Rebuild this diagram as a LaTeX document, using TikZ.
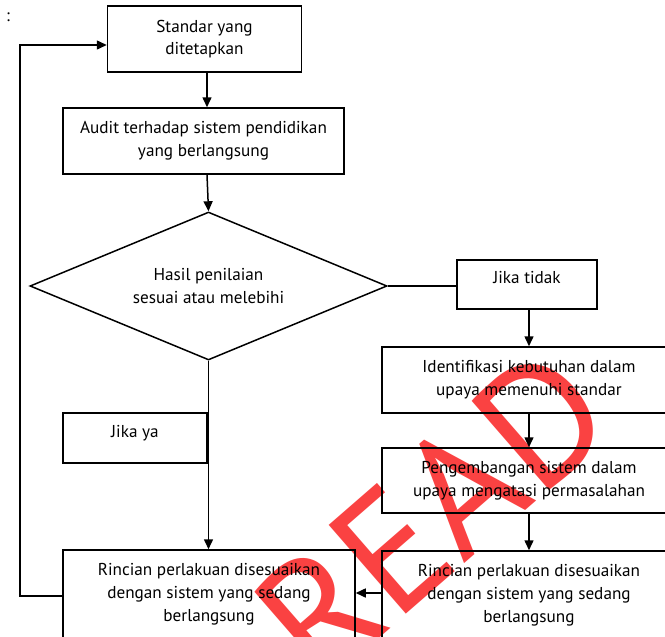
\documentclass[tikz,border=0pt]{standalone}
\usepackage{fontspec}
\setmainfont{PT Sans}
\usetikzlibrary{shapes.geometric,arrows.meta}
\definecolor{wm}{RGB}{250,66,66}
\newcommand{\lifted}[1]{\raisebox{5pt}[0.7em][0.2em]{#1}}
\begin{document}
\begin{tikzpicture}[x=1pt,y=-1pt,
  every node/.style={font=\fontsize{17.2}{22.8}\selectfont},
  box/.style={draw,line width=1.5pt,rectangle,inner sep=0pt,align=center},
  dec/.style={draw,line width=1.5pt,diamond,inner sep=0pt,align=center,
    shape aspect=2.41,minimum width=357pt,minimum height=148pt},
  link/.style={line width=1.5pt},
  arr/.style={line width=1.5pt,-{Triangle[length=10pt,width=9pt]}}]
\useasboundingbox (0,0) rectangle (665,637);
\clip (0,0) rectangle (665,637);
\fill[white] (0,0) rectangle (665,637);

% watermark behind the chart
\node[text=wm,rotate=41,inner sep=0pt,font=\fontsize{168}{168}\selectfont] (mark) at (432,514) {READ};

\node (colon) at (8,17) {:};

% left column
\node[box,minimum width=194pt,minimum height=66pt] (std) at (204.5,39) {Standar yang\\ditetapkan};
\node[box,minimum width=281pt,minimum height=66pt] (audit) at (203.5,141) {Audit terhadap sistem pendidikan\\yang berlangsung};
\node[dec] (hasil) at (208.5,286) {Hasil penilaian\\sesuai atau melebihi};
\node[box,minimum width=144pt,minimum height=50pt] (ya) at (135,438) {\lifted{Jika ya}};
\node[box,minimum width=292pt,minimum height=88pt] (rinL) at (209,594) {Rincian perlakuan disesuaikan\\dengan sistem yang sedang\\berlangsung};

% right column
\node[box,minimum width=140pt,minimum height=49pt] (tidak) at (527,284.5) {\lifted{Jika tidak}};
\node[box,minimum width=294pt,minimum height=66pt] (ident) at (529,380) {Identifikasi kebutuhan dalam\\upaya memenuhi standar};
\node[box,minimum width=294pt,minimum height=65pt] (kemb) at (529,480.5) {Pengembangan sistem dalam\\upaya mengatasi permasalahan};
\node[box,minimum width=294pt,minimum height=88pt] (rinR) at (529,595) {Rincian perlakuan disesuaikan\\dengan sistem yang sedang\\berlangsung};

% connectors
\draw[arr] (std.south -| 207,0) -- (audit.north -| 207,0);
\draw[arr] (audit.south -| 207,0) -- (hasil.north);
\draw[link] (hasil.east) -- (hasil.east -| tidak.west);
\draw[arr] (tidak.south -| ident.north) -- (ident.north);
\draw[arr] (ident.south) -- (kemb.north);
\draw[arr] (kemb.south) -- (rinR.north);
\draw[arr] (hasil.south) -- (hasil.south |- rinL.north);
\draw[arr] (rinR.west |- 0,593) -- (rinL.east |- 0,593);
\coordinate (back) at (20,45);
\draw[arr] (rinL.west |- 0,596) -| (back) -- (std.west |- back);
\end{tikzpicture}
\end{document}
